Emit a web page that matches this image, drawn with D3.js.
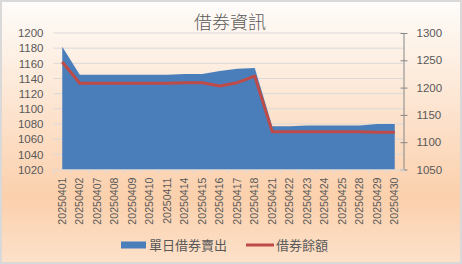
<!DOCTYPE html>
<html>
<head>
<meta charset="utf-8">
<script src="https://cdn.jsdelivr.net/npm/d3@7"></script>
<style>
  body { margin: 0; }
  text { font-family: "Liberation Sans", "Noto Sans CJK TC", sans-serif; fill: #595959; }
</style>
</head>
<body>
<svg width="462" height="264"></svg>
<script>
(function (d3) {
  'use strict'

  const dates = ['20250401', '20250402', '20250407', '20250408', '20250409', '20250410',
    '20250411', '20250414', '20250415', '20250416', '20250417', '20250418', '20250421',
    '20250422', '20250423', '20250424', '20250425', '20250428', '20250429', '20250430']

  // 單日借券賣出 (left axis)
  const dailySales = [1182, 1145, 1145, 1145, 1145, 1145, 1145, 1146, 1146, 1150,
    1153, 1154, 1077, 1077, 1078, 1078, 1078, 1078, 1080, 1080]

  // 借券餘額 (right axis)
  const balance = [1247, 1208, 1208, 1208, 1208, 1208, 1208, 1209, 1209, 1203,
    1209, 1221, 1119, 1119, 1119, 1119, 1119, 1119, 1118, 1118]

  const leftTicks = [1020, 1040, 1060, 1080, 1100, 1120, 1140, 1160, 1180, 1200]
  const rightTicks = [1050, 1100, 1150, 1200, 1250, 1300]

  const svg = d3.select('svg')

  // background gradient
  const grad = svg.append('defs').append('linearGradient')
    .attr('id', 'bg').attr('x1', 0).attr('y1', 0).attr('x2', 0).attr('y2', 1)
  grad.append('stop').attr('offset', '0%').attr('stop-color', '#fefcfa')
  grad.append('stop').attr('offset', '75%').attr('stop-color', '#fbd0ac')
  grad.append('stop').attr('offset', '100%').attr('stop-color', '#fde1ca')

  svg.append('rect').attr('x', 1).attr('y', 1).attr('width', 460).attr('height', 262)
    .attr('fill', 'url(#bg)').attr('stroke', '#d9d9d9').attr('stroke-width', 2)

  const left = 53.5, right = 403.5, top = 33, bottom = 169.5

  const x = d3.scaleBand().domain(dates).range([left, right])
  const yL = d3.scaleLinear().domain([1020, 1200]).range([bottom, top])
  const yR = d3.scaleLinear().domain([1050, 1300]).range([bottom, top])
  const cx = function (d) { return x(d) + x.bandwidth() / 2 }

  // gridlines
  svg.append('g').selectAll('line').data(leftTicks.slice(1)).enter().append('line')
    .attr('x1', left).attr('x2', right)
    .attr('y1', function (d) { return yL(d) }).attr('y2', function (d) { return yL(d) })
    .attr('stroke', '#d9d9d9').attr('stroke-width', 1)

  // area
  const area = d3.area()
    .x(function (d, i) { return cx(dates[i]) })
    .y0(yL(1020))
    .y1(function (d) { return yL(d) })
  svg.append('path').datum(dailySales).attr('d', area).attr('fill', '#4a7ebb')

  // line
  const line = d3.line()
    .x(function (d, i) { return cx(dates[i]) })
    .y(function (d) { return yR(d) })
  svg.append('path').datum(balance).attr('d', line)
    .attr('fill', 'none').attr('stroke', '#be4b48').attr('stroke-width', 3)
    .attr('stroke-linejoin', 'round')

  // left axis
  const gl = svg.append('g').attr('transform', 'translate(' + left + ',0)')
    .call(d3.axisLeft(yL).tickValues(leftTicks).tickFormat(d3.format('d')).tickSize(0).tickPadding(10))
  gl.select('.domain').remove()
  gl.selectAll('text').attr('font-size', 11.5).attr('fill', '#595959')
    .style('font-family', '"Liberation Sans", sans-serif')

  // right axis
  const gr = svg.append('g').attr('transform', 'translate(' + right + ',0)')
    .call(d3.axisRight(yR).tickValues(rightTicks).tickFormat(d3.format('d')).tickSize(4).tickSizeOuter(0).tickPadding(9))
  gr.select('.domain').attr('stroke', '#868686')
  gr.selectAll('.tick line').attr('stroke', '#868686').attr('x1', -3)
  gr.selectAll('text').attr('font-size', 11.5).attr('fill', '#595959')
    .style('font-family', '"Liberation Sans", sans-serif')

  // bottom axis
  const gb = svg.append('g').attr('transform', 'translate(0,' + bottom + ')')
    .call(d3.axisBottom(x).tickSize(0).tickPadding(0))
  gb.select('.domain').attr('stroke', '#d9d9d9')
  gb.selectAll('.tick text')
    .attr('transform', 'rotate(-90)')
    .attr('text-anchor', 'end')
    .attr('x', -8).attr('y', 0).attr('dy', '0.35em')
    .attr('font-size', 10.6).attr('fill', '#595959')
    .style('font-family', '"Liberation Sans", sans-serif')
  gb.append('g').selectAll('line').data(dates.concat(['end'])).enter().append('line')
    .attr('x1', function (d, i) { return left + i * x.bandwidth() })
    .attr('x2', function (d, i) { return left + i * x.bandwidth() })
    .attr('y1', 0).attr('y2', 4).attr('stroke', '#d9d9d9')

  // title
  svg.append('text').attr('x', 230).attr('y', 29).attr('text-anchor', 'middle')
    .attr('font-size', 18).attr('fill', '#6a6a6a').style('font-weight', 300).text('借券資訊')

  // legend
  const lg = svg.append('g').attr('class', 'legend')
  lg.append('rect').attr('x', 121).attr('y', 241.5).attr('width', 25).attr('height', 7)
    .attr('fill', '#4a7ebb')
  lg.append('text').attr('x', 149).attr('y', 249.5).attr('font-size', 13).text('單日借券賣出')
  lg.append('line').attr('x1', 246).attr('x2', 274).attr('y1', 245).attr('y2', 245)
    .attr('stroke', '#be4b48').attr('stroke-width', 3)
  lg.append('text').attr('x', 276).attr('y', 249.5).attr('font-size', 13).text('借券餘額')
}(d3))
</script>
</body>
</html>
